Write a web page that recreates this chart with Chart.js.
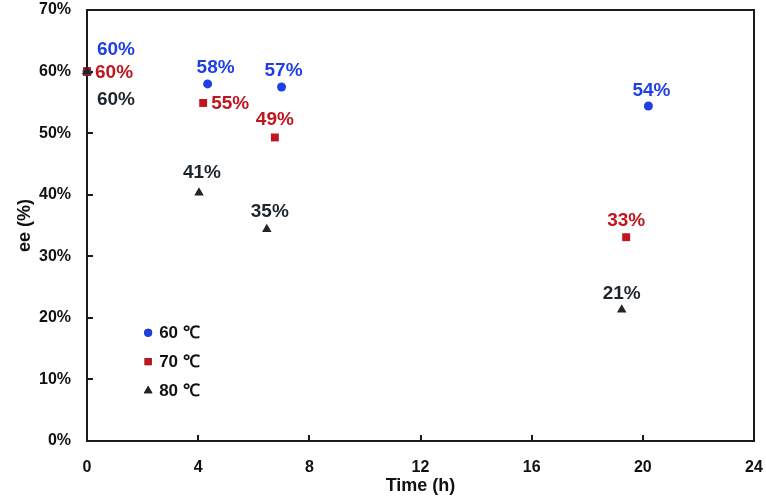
<!DOCTYPE html>
<html>
<head>
<meta charset="utf-8">
<script src="https://cdn.jsdelivr.net/npm/chart.js@4.4.1/dist/chart.umd.min.js"></script>
<style>
  html, body { margin: 0; padding: 0; background: #fff; }
  #wrap { width: 766px; height: 501px; }
</style>
</head>
<body>
<div id="wrap"><canvas id="eeChart" width="766" height="501"></canvas></div>
<script>
// series: time (h) and ee (%)
const seriesNames = ["60 \u2103", "70 \u2103", "80 \u2103"];
const time60 = [0, 4.34, 7.0, 20.2];
const ee60 = [60, 58, 57.5, 54.4];
const time70 = [0, 4.18, 6.76, 19.4];
const ee70 = [60, 54.9, 49.3, 33.1];
const time80 = [0, 4.03, 6.47, 19.24];
const ee80 = [60, 40.3, 34.4, 21.3];
const labels60 = ["60%", "58%", "57%", "54%"];
const labels70 = ["60%", "55%", "49%", "33%"];
const labels80 = ["60%", "41%", "35%", "21%"];
const xTicks = [0, 4, 8, 12, 16, 20, 24];
const yTicks = [0, 10, 20, 30, 40, 50, 60, 70];

const colors = ["#1f3fe6", "#c0161f", "#1e262c"];
const pointStyles = ["circle", "rect", "triangle"];
const pointRadii = [4.5, 5.6, 5.5];

// where each value label sits relative to its point (dx, dy, align)
const labelPos = [
  [[29, -22, "center"], [8, -16, "center"], [2, -16, "center"], [3, -15, "center"]],
  [[8, 1, "left"], [8, 1, "left"], [0, -18, "center"], [0, -16, "center"]],
  [[29, 28, "center"], [3, -20, "center"], [3, -17, "center"], [0, -16, "center"]]
];

const FONT = "'Liberation Sans', Arial, sans-serif";

function toPoints(xs, ys) {
  return xs.map((x, i) => ({ x: x, y: ys[i] }));
}

const allData = [toPoints(time60, ee60), toPoints(time70, ee70), toPoints(time80, ee80)];
const allLabels = [labels60, labels70, labels80];

const frameAndLabels = {
  id: "frameAndLabels",
  afterDatasetsDraw(chart) {
    const ctx = chart.ctx;
    const a = chart.chartArea;
    const xs = chart.scales.x, ys = chart.scales.y;
    ctx.save();
    // box
    ctx.strokeStyle = "#1a1a1a";
    ctx.lineWidth = 2;
    ctx.strokeRect(a.left, a.top, a.right - a.left, a.bottom - a.top);
    // inward ticks
    ctx.beginPath();
    xTicks.forEach(t => {
      const px = Math.round(xs.getPixelForValue(t));
      ctx.moveTo(px, a.bottom);
      ctx.lineTo(px, a.bottom - 6);
    });
    yTicks.forEach(t => {
      const py = Math.round(ys.getPixelForValue(t));
      ctx.moveTo(a.left, py);
      ctx.lineTo(a.left + 6, py);
    });
    ctx.stroke();

    // the first points sit on the axis line, redraw them on top of it
    [1, 2].forEach(di => {
      const pt = chart.getDatasetMeta(di).data[0];
      Chart.helpers.drawPoint(ctx, {
        pointStyle: pointStyles[di], radius: pointRadii[di], rotation: 0, borderWidth: 0
      }, pt.x, pt.y);
      ctx.fillStyle = colors[di];
      ctx.fill();
    });

    // value labels
    ctx.font = "bold 19px " + FONT;
    ctx.textBaseline = "middle";
    chart.data.datasets.forEach((ds, di) => {
      const meta = chart.getDatasetMeta(di);
      ctx.fillStyle = colors[di];
      meta.data.forEach((pt, i) => {
        const p = labelPos[di][i];
        ctx.textAlign = p[2];
        ctx.fillText(allLabels[di][i], pt.x + p[0], pt.y + p[1]);
      });
    });

    // legend inside plot
    const lx = xs.getPixelForValue(2.2);
    const ly0 = ys.getPixelForValue(17.6);
    const gap = 29;
    ctx.font = "bold 17px " + FONT;
    ctx.textAlign = "left";
    seriesNames.forEach((name, i) => {
      const y = ly0 + i * gap;
      Chart.helpers.drawPoint(ctx, {
        pointStyle: pointStyles[i],
        radius: i === 0 ? 4 : 5,
        rotation: 0,
        borderWidth: 0
      }, lx, y);
      ctx.fillStyle = colors[i];
      ctx.fill();
      ctx.fillStyle = "#111";
      ctx.fillText(name, lx + 11, y + 1);
    });
    ctx.restore();
  }
};

new Chart(document.getElementById("eeChart"), {
  type: "scatter",
  data: {
    datasets: seriesNames.map((name, i) => ({
      label: name,
      data: allData[i],
      order: 2 - i,
      pointStyle: pointStyles[i],
      pointRadius: pointRadii[i],
      pointHoverRadius: pointRadii[i],
      backgroundColor: colors[i],
      borderColor: colors[i],
      borderWidth: 0,
      clip: false
    }))
  },
  options: {
    responsive: false,
    animation: false,
    layout: { padding: { top: 10, right: 12, left: 0, bottom: 0 } },
    plugins: {
      legend: { display: false },
      tooltip: { enabled: false }
    },
    scales: {
      x: {
        type: "linear",
        min: 0,
        max: 24,
        afterBuildTicks: s => { s.ticks = xTicks.map(v => ({ value: v })); },
        afterFit: s => { s.height = 60; s.paddingLeft = 0; s.paddingRight = 0; },
        grid: { display: false, drawTicks: false },
        border: { display: false },
        ticks: {
          color: "#111",
          padding: 17,
          maxRotation: 0,
          font: { family: FONT, size: 16, weight: "bold" }
        },
        title: {
          display: true,
          text: "Time (h)",
          color: "#111",
          padding: { top: 7 },
          font: { family: FONT, size: 18, weight: "bold" }
        }
      },
      y: {
        type: "linear",
        min: 0,
        max: 70,
        afterBuildTicks: s => { s.ticks = yTicks.map(v => ({ value: v })); },
        afterFit: s => { s.width = 87; s.paddingTop = 0; s.paddingBottom = 0; },
        grid: { display: false, drawTicks: false },
        border: { display: false },
        ticks: {
          color: "#111",
          padding: 16,
          callback: v => v + "%",
          font: { family: FONT, size: 16, weight: "bold" }
        },
        title: {
          display: true,
          text: "ee (%)",
          color: "#111",
          padding: { top: 14, bottom: 0 },
          font: { family: FONT, size: 18, weight: "bold" }
        }
      }
    }
  },
  plugins: [frameAndLabels]
});
</script>
</body>
</html>
